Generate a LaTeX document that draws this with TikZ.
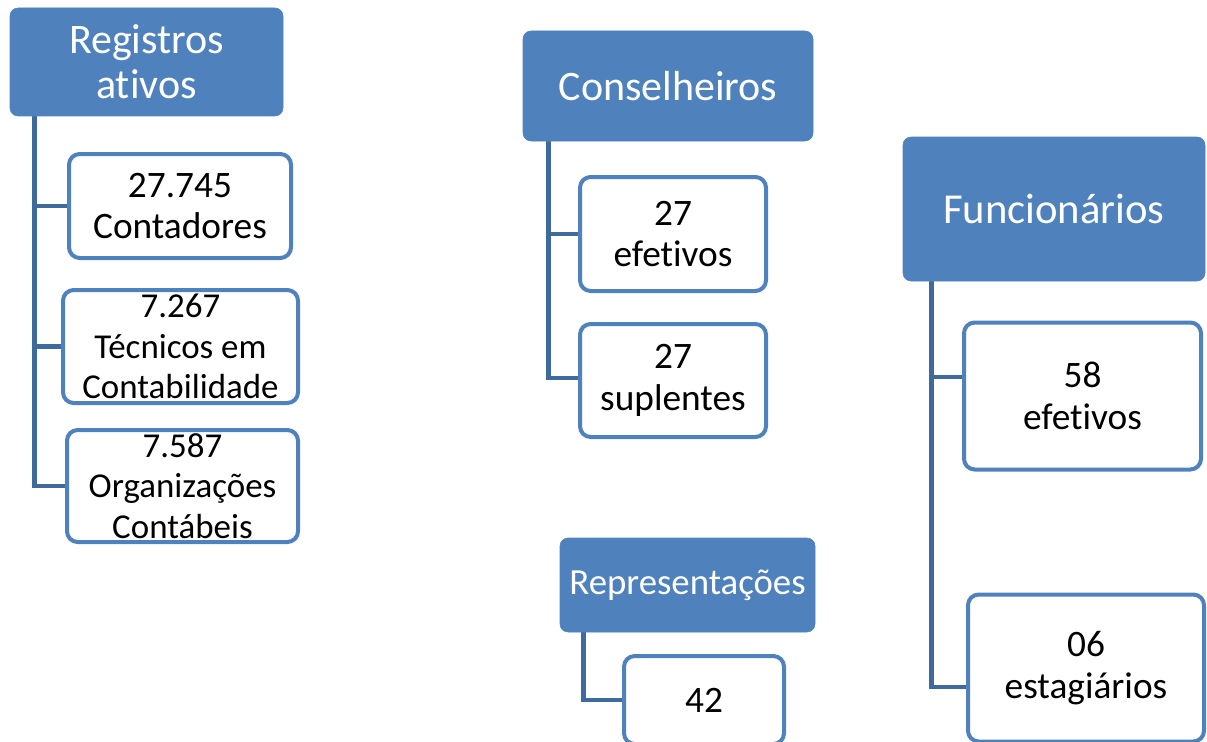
\documentclass[tikz,border=0pt]{standalone}
\usepackage{fontspec}
\setmainfont[Ligatures=NoCommon]{Carlito}
\usetikzlibrary{backgrounds}
\definecolor{hdrblue}{HTML}{4F81BD}
\definecolor{linkblue}{HTML}{3F6A9C}

\begin{document}
\begin{tikzpicture}
        [x=0.75pt, y=-0.75pt,
         head/.style={draw=hdrblue, fill=hdrblue, rounded corners=6pt, text=white, align=center, inner sep=0, font=\fontsize{31.5}{34}\selectfont},
         item/.style={draw=hdrblue, line width=3pt, fill=white, rounded corners=8pt, align=center, inner sep=0, font=\fontsize{28}{31}\selectfont},
         small/.style={font=\fontsize{26.2}{30.5}\selectfont},
         link/.style={draw=linkblue, line width=3.5pt}]

        \useasboundingbox (0,0) rectangle (1207,742);
        \clip (0,0) rectangle (1207,742);

        % registros
        \node[head, minimum width=204.75pt, minimum height=81pt] (reg) at (146.5, 62) {Registros\\ativos};
        \node[item, minimum width=166.5pt, minimum height=78pt] (r1) at (180, 206) {27.745\\Contadores};
        \node[item, small, minimum width=176.25pt, minimum height=84.75pt] (r2) at (180.5, 346.5) {7.267\\Técnicos em\\Contabilidade};
        \node[item, small, minimum width=173.25pt, minimum height=84pt] (r3) at (182.5, 486) {7.587\\Organizações\\Contábeis};

        % conselheiros
        \node[head, minimum width=217.5pt, minimum height=82.5pt] (cons) at (668, 86) {Conselheiros};
        \node[item, minimum width=139.5pt, minimum height=85.5pt] (k1) at (673, 234) {27\\efetivos};
        \node[item, minimum width=139.5pt, minimum height=84.75pt] (k2) at (673, 380.5) {27\\suplentes};

        % funcionarios
        \node[head, font=\fontsize{32}{35}\selectfont, minimum width=226.5pt, minimum height=108pt] (func) at (1054, 209) {Funcionários};
        \node[item, minimum width=177.75pt, minimum height=110.25pt] (f1) at (1082.5, 396) {58\\efetivos};
        \node[item, minimum width=177pt, minimum height=110.25pt] (f2) at (1086, 668) {06\\estagiários};

        % representacoes
        \node[head, font=\fontsize{27.6}{31}\selectfont, minimum width=191.25pt, minimum height=70.5pt] (rep) at (687.5, 585) {Representações};
        \node[item, minimum width=120pt, minimum height=66pt] (p1) at (704, 700) {42};

        \begin{scope}[on background layer]
        \draw[link] ([xshift=18.75pt]reg.south west) |- (r1.west);
        \draw[link] ([xshift=18.75pt]reg.south west) |- (r2.west);
        \draw[link] ([xshift=18.75pt]reg.south west) |- (r3.west);
        \draw[link] ([xshift=19.5pt]cons.south west) |- (k1.west);
        \draw[link] ([xshift=19.5pt]cons.south west) |- ([yshift=2pt]k2.west);
        \draw[link] ([xshift=21.5pt]func.south west) |- ([yshift=14.25pt]f1.west);
        \draw[link] ([xshift=21.5pt]func.south west) |- ([yshift=-14.25pt]f2.west);
        \draw[link] ([xshift=18pt]rep.south west) |- (p1.west);
        \end{scope}

      \end{tikzpicture}
\end{document}
